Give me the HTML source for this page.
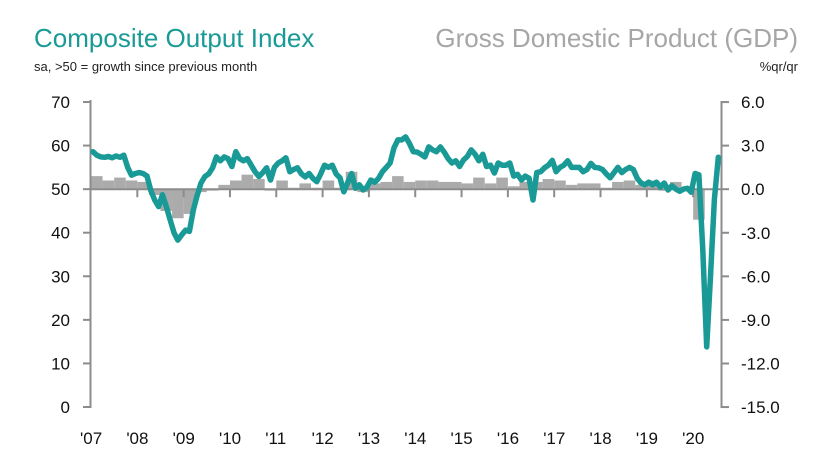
<!DOCTYPE html>
<html><head><meta charset="utf-8"><style>
body{margin:0;background:#fff;width:822px;height:450px;overflow:hidden;font-family:"Liberation Sans",sans-serif}
svg{display:block}
</style></head><body>
<svg id="chart" width="822" height="450" viewBox="0 0 822 450">
<text x="34" y="47" font-size="26" fill="#1a9a96">Composite Output Index</text>
<text x="34" y="71" font-size="13" fill="#222">sa, &gt;50 = growth since previous month</text>
<text x="798" y="47" font-size="26" fill="#a6a6a6" text-anchor="end">Gross Domestic Product (GDP)</text>
<text x="798" y="71" font-size="13" fill="#222" text-anchor="end">%qr/qr</text>
<g id="bars"></g>
<g id="axes"></g>
<path id="pmi" fill="none" stroke="#1a9a96" stroke-width="5.5" stroke-linejoin="round" stroke-linecap="round"></path>
</svg>
<script>
const pmiValues=[58.6,57.8,57.4,57.3,57.5,57.2,57.6,57.3,57.8,55.0,53.2,53.6,
53.8,53.6,53.0,49.7,47.5,46.0,48.7,46.0,43.0,40.0,38.3,39.5,
40.6,40.3,45.2,48.5,51.4,52.9,53.5,54.9,57.4,56.5,57.4,57.0,
55.2,58.6,57.0,56.5,57.0,55.5,54.0,52.9,53.8,54.9,52.1,55.0,
56.0,56.5,57.2,54.0,54.5,54.9,53.5,52.8,53.6,52.5,51.7,53.5,
55.5,55.0,55.5,53.5,52.6,49.4,51.5,53.6,50.2,51.0,49.8,50.5,
52.1,51.6,52.5,54.0,55.0,56.0,59.5,61.3,61.3,62.0,60.5,58.6,
58.5,58.0,57.4,59.7,59.0,58.6,59.7,58.5,57.0,56.0,56.5,55.2,
56.7,57.5,59.0,58.0,56.5,58.0,55.2,55.5,53.7,56.0,55.5,55.5,
56.0,53.0,53.4,52.1,53.0,52.5,47.5,53.8,54.0,54.9,55.5,56.6,
54.0,55.0,55.5,56.5,55.0,55.0,55.0,54.0,54.5,55.9,55.0,54.9,
54.5,53.5,52.6,53.8,55.0,53.8,54.5,55.0,54.5,52.5,51.4,51.0,
51.6,51.0,51.6,50.5,51.4,49.8,50.8,50.0,49.5,50.0,50.2,49.3,
53.6,53.3,36.0,13.8,30.0,47.7,57.3];
const gdpValues=[0.9,0.6,0.8,0.6,
0.5,-0.4,-1.5,-2.0,
-1.7,-0.2,-0.1,0.3,
0.6,1.0,0.7,-0.1,
0.6,0.1,0.4,0.1,
0.6,0.1,1.2,-0.2,
0.4,0.5,0.9,0.5,
0.6,0.6,0.5,0.5,
0.4,0.8,0.4,0.8,
0.2,0.5,0.5,0.7,
0.6,0.3,0.4,0.4,
0.1,0.5,0.6,0.3,
0.6,-0.1,0.5,0.0,
-2.1];
const yearLabels=["'07","'08","'09","'10","'11","'12","'13","'14","'15","'16","'17","'18","'19","'20"];
const leftTicks=[0,10,20,30,40,50,60,70];
const rightTicks=["6.0","3.0","0.0","-3.0","-6.0","-9.0","-12.0","-15.0"];

const X0=91, MW=3.86, L=90.5, R=721.5;
const xm=i=>X0+(i+0.5)*MW;
const yl=v=>407-v*(305/70);
const yr=v=>189.2-v*(305/21);
const NS='http://www.w3.org/2000/svg';
function mk(tag,attrs,parent){const e=document.createElementNS(NS,tag);for(const k in attrs)e.setAttribute(k,attrs[k]);parent.appendChild(e);return e;}
const bars=document.getElementById('bars'), axes=document.getElementById('axes');
gdpValues.forEach((v,q)=>{
  const x=X0+q*3*MW, y0=yr(0), y1=yr(v);
  const r=mk('rect',{x:x,y:Math.min(y0,y1),width:3*MW,height:Math.abs(y1-y0),fill:'#ababab'},bars);
  
  
});
const g='#8c8c8c';
let e=mk('line',{x1:L,y1:100,x2:L,y2:408,stroke:g,'stroke-width':2},axes);


e=mk('line',{x1:R,y1:101,x2:R,y2:408,stroke:g,'stroke-width':2},axes);


e=mk('line',{x1:L,y1:yr(0),x2:R,y2:yr(0),stroke:g,'stroke-width':2},axes);


leftTicks.forEach(v=>{
  mk('line',{x1:83,y1:yl(v),x2:L,y2:yl(v),stroke:g,'stroke-width':2},axes);
  const t=mk('text',{x:70,y:yl(v)+6,'font-size':17,'text-anchor':'end',fill:'#111'},axes);
  t.textContent=v;
  
  
});
rightTicks.forEach(s=>{
  const v=parseFloat(s);
  mk('line',{x1:R,y1:yr(v),x2:729,y2:yr(v),stroke:g,'stroke-width':2},axes);
  const t=mk('text',{x:741,y:yr(v)+6,'font-size':17,fill:'#111'},axes);
  t.textContent=s;
  
  
});
yearLabels.forEach((s,k)=>{
  const x=X0+k*12*MW;
  if(k>0) mk('line',{x1:x,y1:yr(0),x2:x,y2:yr(0)+8,stroke:g,'stroke-width':2},axes);
  const t=mk('text',{x:x-11,y:444,'font-size':17,fill:'#111'},axes);
  t.textContent=s;
  
  
});
document.getElementById('pmi').setAttribute('d',pmiValues.map((v,i)=>(i?'L':'M')+xm(i).toFixed(1)+','+yl(v).toFixed(1)).join(''));
</script>
</body></html>
